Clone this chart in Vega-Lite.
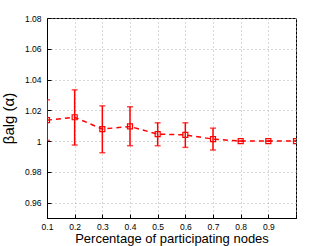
{
  "$schema": "https://vega.github.io/schema/vega-lite/v6.json",
  "width": 249,
  "height": 200,
  "autosize": "none",
  "padding": {"left": 47, "top": 18, "right": 31, "bottom": 28},
  "background": "white",
  "config": {
    "view": {"stroke": "black", "strokeWidth": 1},
    "font": "Liberation Sans",
    "axis": {
      "grid": true,
      "gridColor": "#b0b0b0",
      "gridDash": [1, 3],
      "gridWidth": 1,
      "domainColor": "black",
      "tickColor": "black",
      "tickSize": -4,
      "labelColor": "black",
      "titleColor": "black",
      "labelFont": "Liberation Sans",
      "titleFont": "Liberation Sans",
      "labelFontSize": 8.5,
      "titleFontSize": 13,
      "titleFontWeight": "normal",
      "labelOverlap": false
    }
  },
  "data": {
    "values": [
      {"x": 0.1, "y": 1.0136, "lo": 1.0004, "hi": 1.0268},
      {"x": 0.2, "y": 1.0155, "lo": 0.9974, "hi": 1.0333},
      {"x": 0.3, "y": 1.0078, "lo": 0.9924, "hi": 1.0229},
      {"x": 0.4, "y": 1.0095, "lo": 0.9970, "hi": 1.0223},
      {"x": 0.5, "y": 1.0045, "lo": 0.9970, "hi": 1.0119},
      {"x": 0.6, "y": 1.0040, "lo": 0.9959, "hi": 1.0119},
      {"x": 0.7, "y": 1.0013, "lo": 0.9942, "hi": 1.0084},
      {"x": 0.8, "y": 1.0000, "lo": 1.0000, "hi": 1.0000},
      {"x": 0.9, "y": 1.0000, "lo": 1.0000, "hi": 1.0000},
      {"x": 1.0, "y": 1.0000, "lo": 1.0000, "hi": 1.0000}
    ]
  },
  "encoding": {
    "x": {
      "field": "x", "type": "quantitative",
      "scale": {"domain": [0.1, 1.0], "nice": false, "zero": false},
      "axis": {"values": [0.1, 0.2, 0.3, 0.4, 0.5, 0.6, 0.7, 0.8, 0.9, 1.0], "format": ".1f",
               "labelExpr": "datum.value > 0.95 ? '' : datum.label", "labelFlush": false,
               "title": "Percentage of participating nodes", "labelPadding": 8, "titlePadding": 2}
    }
  },
  "layer": [
    {
      "mark": {"type": "rule", "color": "#ff0000", "strokeWidth": 1.5, "clip": true},
      "encoding": {
        "y": {"field": "lo", "type": "quantitative",
              "scale": {"domain": [0.95, 1.08], "nice": false, "zero": false},
              "axis": {"values": [0.96, 0.98, 1.0, 1.02, 1.04, 1.06, 1.08], "format": "~g",
                       "title": "βalg (α)", "titleFontSize": 15, "labelPadding": 10, "titlePadding": 8}},
        "y2": {"field": "hi"}
      }
    },
    {
      "mark": {"type": "tick", "color": "#ff0000", "orient": "horizontal", "size": 6, "thickness": 1.5, "clip": true},
      "encoding": {"y": {"field": "lo", "type": "quantitative",
              "axis": {"values": [0.96, 0.98, 1.0, 1.02, 1.04, 1.06, 1.08], "format": "~g",
                       "title": "βalg (α)", "titleFontSize": 15, "labelPadding": 10, "titlePadding": 8}}}
    },
    {
      "mark": {"type": "tick", "color": "#ff0000", "orient": "horizontal", "size": 6, "thickness": 1.5, "clip": true},
      "encoding": {"y": {"field": "hi", "type": "quantitative",
              "axis": {"values": [0.96, 0.98, 1.0, 1.02, 1.04, 1.06, 1.08], "format": "~g",
                       "title": "βalg (α)", "titleFontSize": 15, "labelPadding": 10, "titlePadding": 8}}}
    },
    {
      "mark": {"type": "line", "color": "#ff0000", "strokeWidth": 1.5, "strokeDash": [5, 4], "clip": true},
      "encoding": {"y": {"field": "y", "type": "quantitative",
              "axis": {"values": [0.96, 0.98, 1.0, 1.02, 1.04, 1.06, 1.08], "format": "~g",
                       "title": "βalg (α)", "titleFontSize": 15, "labelPadding": 10, "titlePadding": 8}}}
    },
    {
      "mark": {"type": "point", "shape": "square", "filled": false, "color": "#ff0000", "size": 25, "strokeWidth": 1.2, "opacity": 1, "clip": true},
      "encoding": {"y": {"field": "y", "type": "quantitative",
              "axis": {"values": [0.96, 0.98, 1.0, 1.02, 1.04, 1.06, 1.08], "format": "~g",
                       "title": "βalg (α)", "titleFontSize": 15, "labelPadding": 10, "titlePadding": 8}}}
    }
  ]
}
